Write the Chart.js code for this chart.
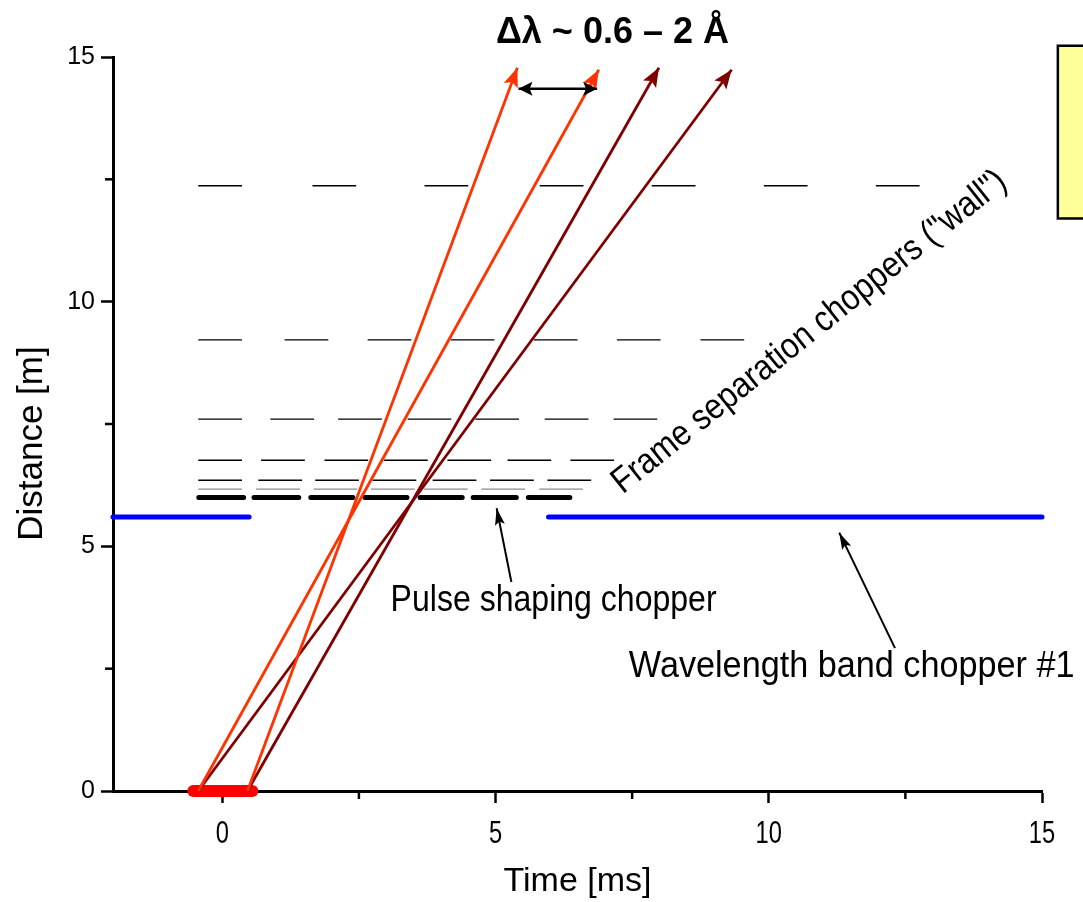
<!DOCTYPE html>
<html>
<head>
<meta charset="utf-8">
<script src="https://cdn.jsdelivr.net/npm/chart.js@4.4.0/dist/chart.umd.min.js"></script>
<style>
html, body { margin: 0; padding: 0; background: #fff; }
#wrap { width: 1083px; height: 902px; }
</style>
</head>
<body>
<div id="wrap"><canvas id="ChartChoppers"></canvas></div>
<script>
// axis ticks
var timeTicks = [0, 2.5, 5, 7.5, 10, 12.5, 15];
var distTicks = [0, 2.5, 5, 7.5, 10, 12.5, 15];

// neutron paths (start time at source, end time / distance at the arrow tip)
var rayStart = [0.46, -0.44, 0.46, -0.44];
var rayEndTime = [5.40, 6.89, 7.99, 9.32];
var rayEndDist = [14.78, 14.74, 14.78, 14.74];

// frame separation choppers ("wall"): distance and opening start times
var wallDist = [12.37, 9.22, 7.60, 6.76, 6.35, 6.17];
var wallStarts = [
    [-0.44, 1.65, 3.70, 5.81, 7.86, 9.91, 11.96],
    [-0.44, 1.14, 2.66, 4.18, 5.70, 7.22, 8.75],
    [-0.44, 0.88, 2.12, 3.39, 4.63, 5.90, 7.16],
    [-0.44, 0.71, 1.87, 2.96, 4.12, 5.22, 6.37],
    [-0.44, 0.66, 1.70, 2.75, 3.85, 4.90, 5.95],
    [-0.44, 0.62, 1.67, 2.72, 3.69, 4.74, 5.80]
];
var wallSlit = 0.8;

// pulse shaping chopper
var pulseDist = 6.0;
var pulseStart = [-0.43, 0.58, 1.62, 2.61, 3.62, 4.59, 5.60];
var pulseEnd = [0.39, 1.40, 2.39, 3.38, 4.39, 5.38, 6.36];

// wavelength band chopper #1
var bandDist = 5.6;
var bandStart = [-2, 5.97];
var bandEnd = [0.49, 15];

// source pulse
var sourceTime = [-0.53, 0.55];

// wavelength band width marker
var dlTime = [5.42, 6.86];
var dlDist = 14.35;

// pointers from labels
var pulsePointer = [[5.29, 4.27], [5.02, 5.78]];
var bandPointer = [[12.31, 2.92], [11.29, 5.28]];

var arial = '"Liberation Sans", Arial, sans-serif';

function segments(starts, ends, d) {
    var pts = [];
    for (var i = 0; i < starts.length; i++) {
        pts.push({x: starts[i], y: d});
        pts.push({x: ends[i], y: d});
        pts.push({x: ends[i], y: null});
    }
    return pts;
}

var datasets = [];

wallDist.forEach(function (d, i) {
    var ends = wallStarts[i].map(function (s) { return s + wallSlit; });
    datasets.push({
        label: 'wall ' + d,
        data: segments(wallStarts[i], ends, d),
        borderColor: i === 5 ? '#8a8a8a' : '#000000',
        borderWidth: 1.4,
        order: 5
    });
});

datasets.push({
    label: 'pulse shaping',
    data: segments(pulseStart, pulseEnd, pulseDist),
    borderColor: '#000000',
    borderWidth: 5,
    borderCapStyle: 'round',
    order: 4
});

datasets.push({
    label: 'band chopper',
    data: segments(bandStart, bandEnd, bandDist),
    borderColor: '#0000ff',
    borderWidth: 5,
    borderCapStyle: 'round',
    order: 4
});

datasets.push({
    label: 'source',
    data: [{x: sourceTime[0], y: 0}, {x: sourceTime[1], y: 0}],
    borderColor: '#ff0000',
    borderWidth: 12,
    borderCapStyle: 'round',
    order: 3
});

var rayColors = ['#ff3300', '#ff3300', '#800000', '#800000'];
rayStart.forEach(function (t0, i) {
    datasets.push({
        label: 'ray ' + i,
        data: [{x: t0, y: 0}, {x: rayEndTime[i], y: rayEndDist[i]}],
        borderColor: rayColors[i],
        borderWidth: 2.8,
        arrow: 'end', arrowLen: 19, arrowHalf: 7.5,
        order: 1
    });
});

datasets.push({
    label: 'delta lambda',
    data: [{x: dlTime[0], y: dlDist}, {x: dlTime[1], y: dlDist}],
    borderColor: '#000000',
    borderWidth: 2.5,
    arrow: 'both', arrowLen: 14, arrowHalf: 7,
    order: 1
});

[pulsePointer, bandPointer].forEach(function (p, i) {
    datasets.push({
        label: 'pointer ' + i,
        data: [{x: p[0][0], y: p[0][1]}, {x: p[1][0], y: p[1][1]}],
        borderColor: '#000000',
        borderWidth: 2,
        arrow: 'end', arrowLen: 17, arrowHalf: 5,
        order: 1
    });
});

datasets.forEach(function (ds) {
    ds.showLine = true;
    ds.pointRadius = 0;
    ds.fill = false;
    ds.spanGaps = false;
    ds.clip = false;
});

// free text drawn at data positions (sx = horizontal squeeze of the text)
var notes = [
    {text: 'Pulse shaping chopper', x: 3.08, y: 3.68, rot: 0, sx: 0.89},
    {text: 'Wavelength band chopper #1', x: 7.44, y: 2.33, rot: 0, sx: 0.95},
    {text: 'Frame separation choppers ("wall")', x: 7.33, y: 6.06, rot: -38.7, sx: 0.88}
];

function squeezedText(ctx, text, x, y, rot, sx) {
    ctx.save();
    ctx.translate(x, y);
    ctx.rotate(rot * Math.PI / 180);
    ctx.scale(sx, 1);
    ctx.fillText(text, 0, 0);
    ctx.restore();
}

var arrowPlugin = {
    id: 'arrowHeads',
    afterDatasetsDraw: function (chart) {
        var ctx = chart.ctx;
        chart.data.datasets.forEach(function (ds, i) {
            if (!ds.arrow) return;
            var pts = chart.getDatasetMeta(i).data;
            var head = function (tip, from) {
                var a = Math.atan2(tip.y - from.y, tip.x - from.x);
                ctx.save();
                ctx.translate(tip.x, tip.y);
                ctx.rotate(a);
                ctx.beginPath();
                ctx.moveTo(0, 0);
                ctx.lineTo(-ds.arrowLen, -ds.arrowHalf);
                ctx.lineTo(-ds.arrowLen * 0.8, 0);
                ctx.lineTo(-ds.arrowLen, ds.arrowHalf);
                ctx.closePath();
                ctx.fillStyle = ds.borderColor;
                ctx.fill();
                ctx.restore();
            };
            head(pts[pts.length - 1], pts[pts.length - 2]);
            if (ds.arrow === 'both') head(pts[0], pts[1]);
        });
    },
    afterDraw: function (chart) {
        var ctx = chart.ctx;
        var xs = chart.scales.x, ys = chart.scales.y;
        var area = chart.chartArea;

        // minor ticks
        ctx.save();
        ctx.strokeStyle = '#000';
        ctx.lineWidth = 2.5;
        timeTicks.forEach(function (v) {
            if (v % 5 === 0) return;
            var px = xs.getPixelForValue(v);
            ctx.beginPath();
            ctx.moveTo(px, area.bottom);
            ctx.lineTo(px, area.bottom + 8);
            ctx.stroke();
        });
        distTicks.forEach(function (v) {
            if (v % 5 === 0) return;
            var py = ys.getPixelForValue(v);
            ctx.beginPath();
            ctx.moveTo(area.left, py);
            ctx.lineTo(area.left - 8, py);
            ctx.stroke();
        });
        ctx.restore();

        ctx.save();
        ctx.fillStyle = '#000';

        // x tick labels (condensed)
        ctx.font = '32px ' + arial;
        ctx.textAlign = 'center';
        ctx.textBaseline = 'alphabetic';
        timeTicks.forEach(function (v) {
            if (v % 5 !== 0) return;
            squeezedText(ctx, String(v), xs.getPixelForValue(v), area.bottom + 52, 0, 0.74);
        });

        // y axis title
        ctx.font = '35px ' + arial;
        ctx.textBaseline = 'middle';
        squeezedText(ctx, 'Distance [m]', 32, ys.getPixelForValue(7.1), -90, 1);

        // text labels
        ctx.font = '36px ' + arial;
        ctx.textBaseline = 'alphabetic';
        ctx.textAlign = 'left';
        notes.forEach(function (n) {
            squeezedText(ctx, n.text, xs.getPixelForValue(n.x), ys.getPixelForValue(n.y), n.rot, n.sx);
        });

        // heading
        ctx.font = 'bold 36px ' + arial;
        ctx.textAlign = 'center';
        ctx.fillText('\u0394\u03bb ~ 0.6 \u2013 2 \u00c5', xs.getPixelForValue(7.14), ys.getPixelForValue(15.29));

        // yellow box at the right edge
        var bx = xs.getPixelForValue(15.29), by = ys.getPixelForValue(15.23);
        var bh = ys.getPixelForValue(11.70) - by;
        ctx.fillStyle = '#ffff99';
        ctx.fillRect(bx, by, 60, bh);
        ctx.strokeStyle = '#000';
        ctx.lineWidth = 2.5;
        ctx.strokeRect(bx, by, 60, bh);
        ctx.restore();
    }
};

new Chart(document.getElementById('ChartChoppers'), {
    type: 'scatter',
    data: { datasets: datasets },
    options: {
        responsive: true,
        maintainAspectRatio: false,
        animation: false,
        layout: { padding: { left: 0, top: 57, right: 41, bottom: 0 } },
        plugins: {
            legend: { display: false },
            tooltip: { enabled: false }
        },
        scales: {
            x: {
                type: 'linear',
                min: -2,
                max: 15,
                afterBuildTicks: function (scale) {
                    scale.ticks = timeTicks.map(function (v) { return {value: v}; });
                },
                afterFit: function (scale) { scale.height = 111; },
                ticks: { display: false },
                grid: {
                    drawOnChartArea: false,
                    tickLength: 12,
                    tickWidth: 2.5,
                    tickColor: function (c) { return c.tick && c.tick.value % 5 === 0 ? '#000' : 'rgba(0,0,0,0)'; }
                },
                border: { color: '#000', width: 3 },
                title: {
                    display: true,
                    text: 'Time [ms]',
                    color: '#000',
                    font: { family: arial, size: 34 },
                    padding: { top: 12, bottom: 0 }
                }
            },
            y: {
                type: 'linear',
                min: 0,
                max: 15,
                afterBuildTicks: function (scale) {
                    scale.ticks = distTicks.map(function (v) { return {value: v}; });
                },
                afterFit: function (scale) { scale.width = 113; },
                ticks: {
                    autoSkip: false,
                    padding: 6,
                    color: '#000',
                    font: { family: arial, size: 25 },
                    callback: function (v) { return v % 5 === 0 ? v : ''; }
                },
                grid: {
                    drawOnChartArea: false,
                    tickLength: 12,
                    tickWidth: 2.5,
                    tickColor: function (c) { return c.tick && c.tick.value % 5 === 0 ? '#000' : 'rgba(0,0,0,0)'; }
                },
                border: { color: '#000', width: 3 },
                title: { display: false }
            }
        }
    },
    plugins: [arrowPlugin]
});
</script>
</body>
</html>
